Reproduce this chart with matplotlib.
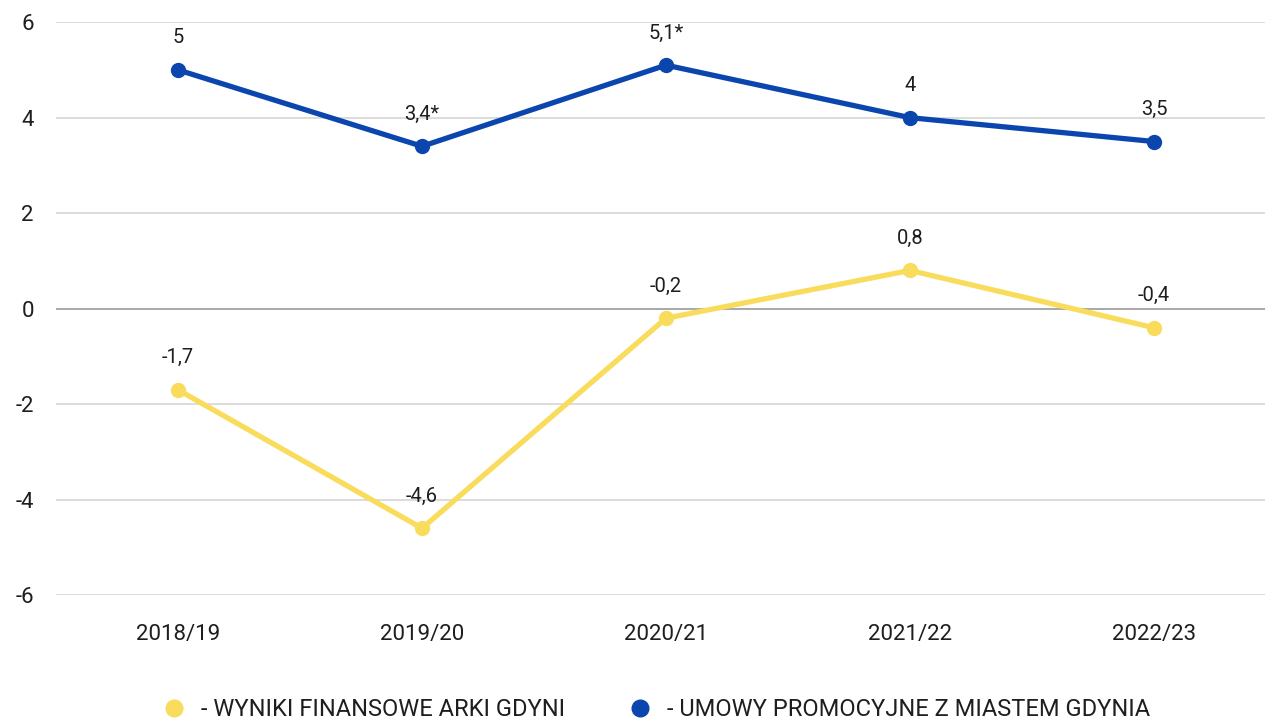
import matplotlib
matplotlib.use("Agg")
import matplotlib.pyplot as plt
from matplotlib.lines import Line2D

plt.rcParams["font.family"] = ["Roboto", "DejaVu Sans"]

seasons = ["2018/19", "2019/20", "2020/21", "2021/22", "2022/23"]
finanse = [-1.7, -4.6, -0.2, 0.8, -0.4]
umowy = [5.0, 3.4, 5.1, 4.0, 3.5]
finanse_labels = ["-1,7", "-4,6", "-0,2", "0,8", "-0,4"]
umowy_labels = ["5", "3,4*", "5,1*", "4", "3,5"]
yticks = [-6, -4, -2, 0, 2, 4, 6]

YELLOW = "#F9DC5C"
BLUE = "#0B46AE"
TEXT = "#1e1e1e"

fig = plt.figure(figsize=(12.65, 7.24), dpi=100)
ax = fig.add_axes([0.0443, 0.178, 0.9557, 0.7914])

x = list(range(len(seasons)))
for yt in yticks:
    ax.axhline(yt, color="#999999" if yt == 0 else "#d6d6d6", linewidth=1.2, zorder=0)

ax.plot(x, finanse, color=YELLOW, linewidth=3.8, marker="o", markersize=10, zorder=3)
ax.plot(x, umowy, color=BLUE, linewidth=3.8, marker="o", markersize=10, zorder=3)

# value labels sit ~33 px above each point
for xi, v, lab in zip(x, finanse, finanse_labels):
    ax.annotate(lab, (xi, v), xytext=(0, 23), textcoords="offset points",
                ha="center", va="center", fontsize=14.5, color=TEXT)
for xi, v, lab in zip(x, umowy, umowy_labels):
    ax.annotate(lab, (xi, v), xytext=(0, 23), textcoords="offset points",
                ha="center", va="center", fontsize=14.5, color=TEXT)

ax.set_xlim(-0.5, 4.455)
ax.set_ylim(-6, 6)
ax.set_yticks(yticks)
ax.set_yticklabels([str(t) for t in yticks])
ax.set_xticks(x)
ax.set_xticklabels(seasons)
ax.tick_params(axis="both", length=0, labelsize=16, colors=TEXT)
ax.tick_params(axis="y", pad=16)
ax.tick_params(axis="x", pad=21)
for s in ax.spines.values():
    s.set_visible(False)

handles = [
    Line2D([], [], linestyle="", marker="o", markersize=12, color=YELLOW),
    Line2D([], [], linestyle="", marker="o", markersize=12, color=BLUE),
]
labels = ["- WYNIKI FINANSOWE ARKI GDYNI", "- UMOWY PROMOCYJNE Z MIASTEM GDYNIA"]
fig.legend(handles, labels, loc="center", bbox_to_anchor=(0.5186, 0.02), ncol=2,
           frameon=False, fontsize=17, handlelength=1.0, handletextpad=0.65,
           columnspacing=2.67, labelcolor=TEXT, borderaxespad=0, borderpad=0)

fig.savefig("out.png", dpi=100)
